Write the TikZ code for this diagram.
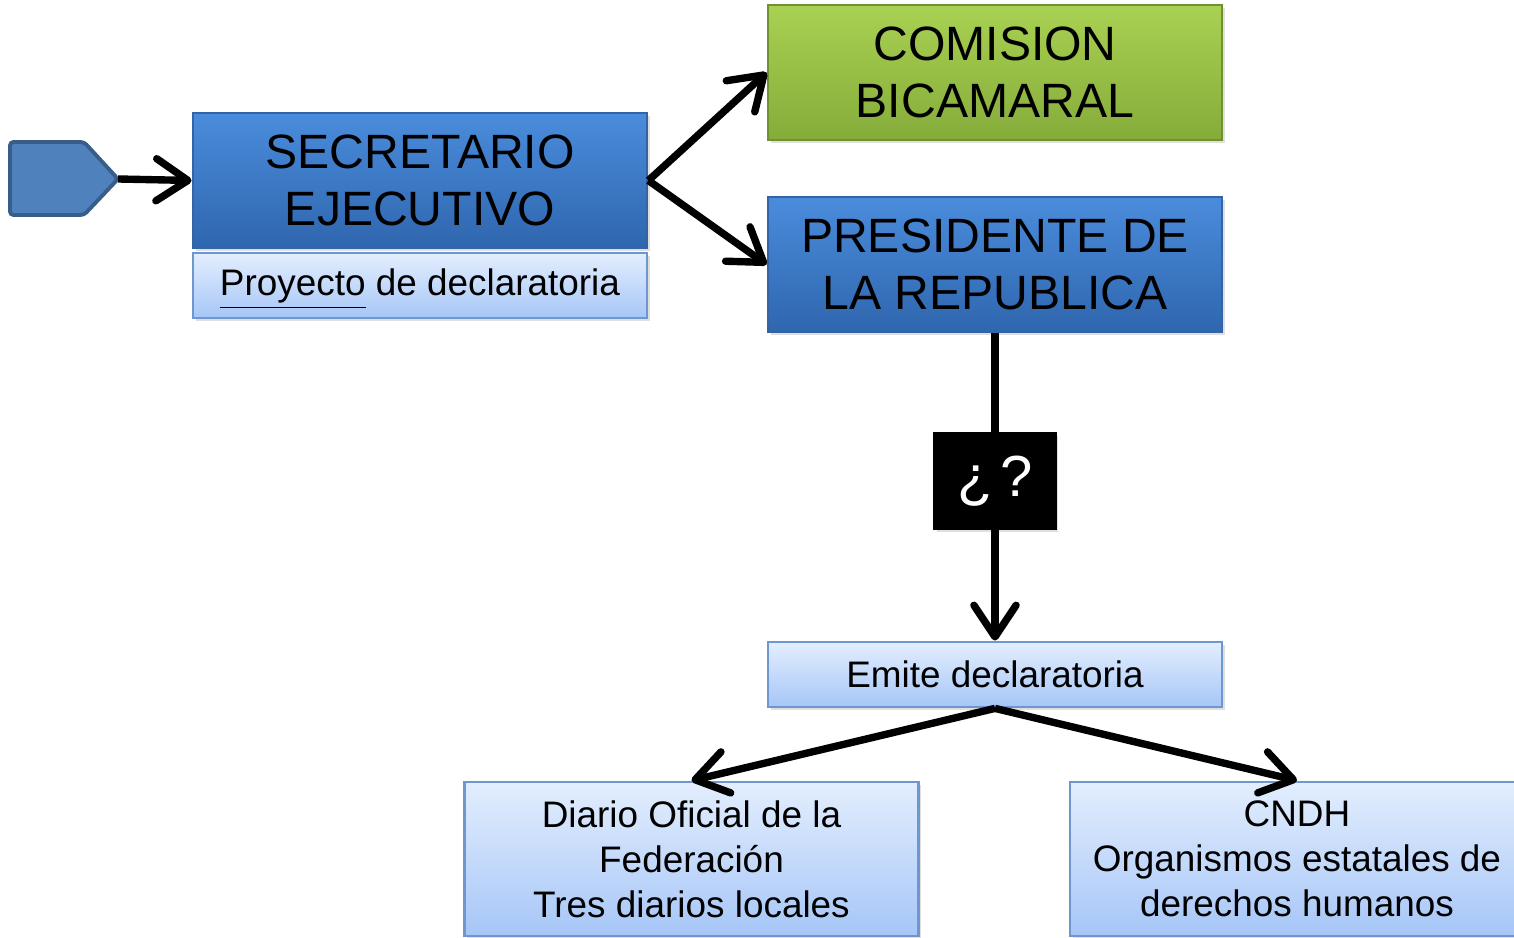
\documentclass[tikz,border=0pt]{standalone}
\usepackage{fontspec}
\setmainfont{Liberation Sans}
\usetikzlibrary{arrows.meta,shadows}

\definecolor{bluetop}{HTML}{4A8CDC}
\definecolor{bluebot}{HTML}{2F66AE}
\definecolor{blueedge}{HTML}{3564A6}
\definecolor{greentop}{HTML}{A9D152}
\definecolor{greenbot}{HTML}{85AC3A}
\definecolor{greenedge}{HTML}{6F9130}
\definecolor{lighttop}{HTML}{E3EEFE}
\definecolor{lightbot}{HTML}{A6C6F7}
\definecolor{lightedge}{HTML}{6F97CF}
\definecolor{tabfill}{HTML}{4F81BD}
\definecolor{tabedge}{HTML}{385D8A}

\begin{document}
\begin{tikzpicture}[
    box/.style={line width=0.8pt, align=center, inner sep=0pt,
        drop shadow={opacity=0.25, shadow xshift=0.8pt, shadow yshift=-0.8pt}},
    bluebox/.style={box, draw=blueedge, top color=bluetop, bottom color=bluebot,
        minimum width=4.54cm, minimum height=1.35cm, font=\fontsize{13.7}{16}\selectfont},
    greenbox/.style={bluebox, draw=greenedge, top color=greentop, bottom color=greenbot},
    lightbox/.style={box, draw=lightedge, top color=lighttop, bottom color=lightbot,
        minimum width=4.54cm, minimum height=0.65cm, font=\fontsize{10.5}{12.8}\selectfont},
    arr/.style={line width=2.1pt, -{Straight Barb[round,length=9pt,width=12pt]}}]
    \useasboundingbox (0,0) rectangle (15.14,9.38);

    % start tab
    \draw[draw=tabedge, fill=tabfill, line width=1.1pt, rounded corners=1pt]
        (0.10,7.96) -- (0.84,7.96) -- (1.18,7.59) -- (0.84,7.23) -- (0.10,7.23) -- cycle;
    \coordinate (tab) at (1.18,7.59);

    \node[bluebox] (sec) at (4.20,7.575) {SECRETARIO\\EJECUTIVO};
    \node[lightbox] (proy) at (4.20,6.525)
        {\smash{\underline{Proyecto}}\vphantom{Py} de declaratoria};
    \node[greenbox] (com) at (9.95,8.655) {COMISION\\BICAMARAL};
    \node[bluebox] (pres) at (9.95,6.735) {PRESIDENTE DE\\LA REPUBLICA};
    \node[box, draw=black, fill=black, text=white, minimum width=1.21cm, minimum height=0.96cm,
        font=\fontsize{16.5}{18}\selectfont] (q) at (9.95,4.57) {¿\kern2pt?};
    \node[lightbox] (emite) at (9.95,2.635) {Emite declaratoria};
    \node[lightbox, minimum height=1.54cm] (diario) at (6.915,0.79)
        {Diario Oficial de la\\Federación\\Tres diarios locales};
    \node[lightbox, minimum height=1.54cm] (cndh) at (12.97,0.79)
        {CNDH\\Organismos estatales de\\derechos humanos};

    \draw[line width=2.1pt] (pres.south) -- (q.north);
    \foreach \a/\b in {tab/sec.west, sec.east/com.west, sec.east/pres.west,
        q.south/emite.north, emite.south/diario.north, emite.south/cndh.north}
        \draw[arr] (\a) -- (\b);
\end{tikzpicture}
\end{document}
